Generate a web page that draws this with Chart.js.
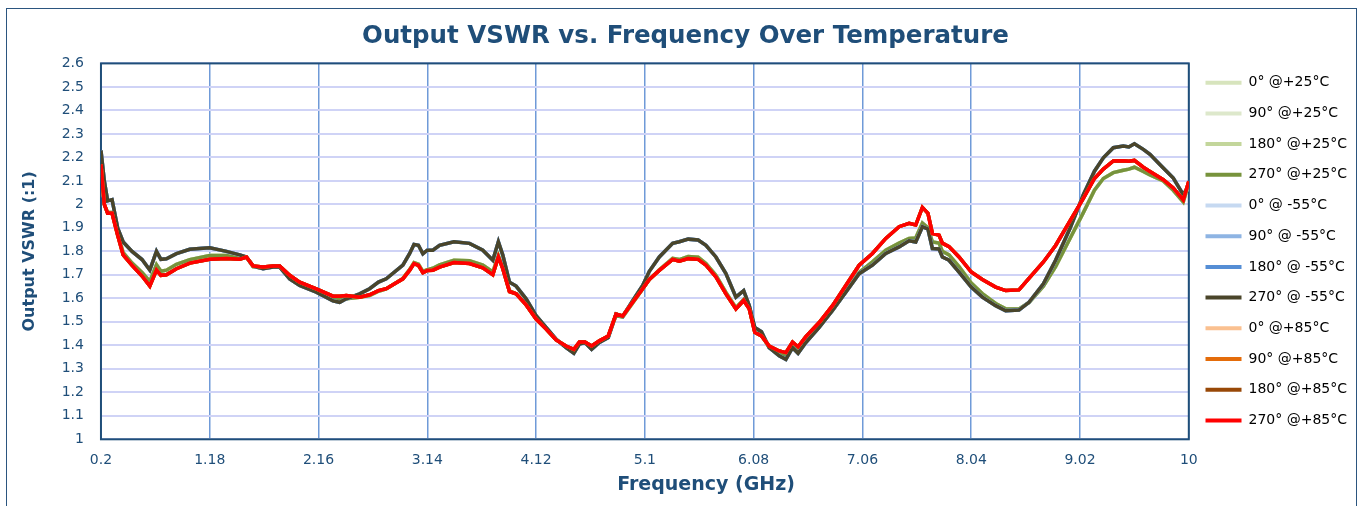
<!DOCTYPE html>
<html>
<head>
<meta charset="utf-8">
<title>Output VSWR vs. Frequency Over Temperature</title>
<script src="https://cdn.jsdelivr.net/npm/chart.js@4.4.1/dist/chart.umd.min.js"></script>
<style>
  html, body { margin: 0; padding: 0; background: #fff; }
  #wrap { width: 1364px; height: 506px; }
</style>
</head>
<body>
<div id="wrap"><canvas id="chart" width="1364" height="506"></canvas></div>
<script>
// frequency points (GHz) shared by all series
const freq = [
  0.2, 0.23, 0.26, 0.3, 0.35, 0.4, 0.48, 0.57, 0.64, 0.7,
  0.74, 0.79, 0.88, 1.0, 1.18, 1.33, 1.45, 1.51, 1.57, 1.66,
  1.75, 1.81, 1.9, 1.99, 2.14, 2.29, 2.35, 2.41, 2.53, 2.62,
  2.7, 2.77, 2.92, 2.98, 3.02, 3.06, 3.1, 3.14, 3.19, 3.25,
  3.38, 3.52, 3.64, 3.73, 3.78, 3.82, 3.88, 3.94, 4.03, 4.12,
  4.21, 4.3, 4.39, 4.46, 4.51, 4.56, 4.62, 4.69, 4.77, 4.84,
  4.9, 4.99, 5.08, 5.14, 5.23, 5.35, 5.41, 5.49, 5.58, 5.65,
  5.74, 5.83, 5.92, 5.99, 6.04, 6.09, 6.15, 6.22, 6.31, 6.37,
  6.43, 6.48, 6.55, 6.67, 6.79, 6.91, 7.03, 7.15, 7.27, 7.39,
  7.48, 7.54, 7.6, 7.65, 7.69, 7.75, 7.78, 7.84, 7.93, 8.04,
  8.14, 8.26, 8.35, 8.47, 8.56, 8.69, 8.8, 8.93, 9.05, 9.15,
  9.23, 9.32, 9.41, 9.46, 9.51, 9.59, 9.65, 9.77, 9.86, 9.95,
  10.0
];

// VSWR at +25°C (the four phase states lie on top of each other)
const vswr25 = [
  2.17, 2.00, 1.965, 1.965, 1.875, 1.795, 1.75, 1.71, 1.672, 1.743,
  1.715, 1.72, 1.745, 1.765, 1.782, 1.782, 1.77, 1.776, 1.735, 1.728,
  1.735, 1.733, 1.69, 1.662, 1.632, 1.598, 1.595, 1.598, 1.605, 1.612,
  1.63, 1.64, 1.685, 1.722, 1.752, 1.745, 1.715, 1.722, 1.728, 1.742,
  1.762, 1.76, 1.742, 1.712, 1.782, 1.73, 1.632, 1.62, 1.575, 1.515,
  1.47, 1.425, 1.395, 1.38, 1.41, 1.41, 1.392, 1.415, 1.437, 1.527,
  1.52, 1.58, 1.64, 1.68, 1.722, 1.77, 1.765, 1.778, 1.775, 1.748,
  1.698, 1.625, 1.56, 1.595, 1.56, 1.46, 1.445, 1.39, 1.366, 1.355,
  1.405, 1.385, 1.425, 1.48, 1.548, 1.628, 1.71, 1.755, 1.805, 1.835,
  1.855, 1.857, 1.92, 1.9, 1.84, 1.835, 1.8, 1.785, 1.735, 1.665,
  1.62, 1.578, 1.555, 1.555, 1.582, 1.652, 1.735, 1.855, 1.965, 2.06,
  2.11, 2.135, 2.145, 2.15, 2.158, 2.14, 2.125, 2.1, 2.06, 2.01,
  2.09
];

// VSWR at -55°C
const vswrM55 = [
  2.23, 2.10, 2.015, 2.02, 1.90, 1.84, 1.80, 1.765, 1.72, 1.80,
  1.766, 1.768, 1.79, 1.809, 1.815, 1.80, 1.785, 1.776, 1.738, 1.726,
  1.733, 1.733, 1.683, 1.655, 1.626, 1.589, 1.583, 1.598, 1.619, 1.641,
  1.669, 1.683, 1.741, 1.79, 1.829, 1.826, 1.79, 1.805, 1.805, 1.826,
  1.841, 1.834, 1.805, 1.762, 1.841, 1.784, 1.669, 1.652, 1.598, 1.526,
  1.476, 1.426, 1.39, 1.366, 1.405, 1.412, 1.383, 1.412, 1.433, 1.533,
  1.523, 1.59, 1.655, 1.715, 1.776, 1.834, 1.841, 1.852, 1.848, 1.826,
  1.776, 1.705, 1.605, 1.633, 1.569, 1.476, 1.458, 1.39, 1.355, 1.34,
  1.39, 1.366, 1.412, 1.476, 1.548, 1.626, 1.705, 1.741, 1.791, 1.819,
  1.845, 1.84, 1.905, 1.895, 1.812, 1.81, 1.776, 1.762, 1.712, 1.648,
  1.605, 1.569, 1.547, 1.55, 1.583, 1.662, 1.762, 1.898, 2.041, 2.141,
  2.198, 2.241, 2.248, 2.244, 2.258, 2.234, 2.213, 2.155, 2.112, 2.041,
  2.08
];

// VSWR at +85°C
const vswr85 = [
  2.17, 2.00, 1.962, 1.962, 1.869, 1.785, 1.74, 1.695, 1.652, 1.72,
  1.698, 1.70, 1.726, 1.75, 1.766, 1.77, 1.766, 1.776, 1.738, 1.733,
  1.738, 1.738, 1.698, 1.669, 1.64, 1.609, 1.609, 1.612, 1.605, 1.615,
  1.633, 1.641, 1.683, 1.719, 1.748, 1.74, 1.709, 1.719, 1.72, 1.733,
  1.752, 1.748, 1.73, 1.701, 1.776, 1.726, 1.629, 1.619, 1.572, 1.512,
  1.469, 1.423, 1.397, 1.383, 1.414, 1.414, 1.397, 1.419, 1.44, 1.533,
  1.525, 1.583, 1.641, 1.68, 1.719, 1.766, 1.758, 1.769, 1.766, 1.741,
  1.691, 1.619, 1.555, 1.591, 1.555, 1.455, 1.44, 1.397, 1.376, 1.369,
  1.414, 1.394, 1.437, 1.497, 1.569, 1.655, 1.741, 1.791, 1.855, 1.905,
  1.919, 1.912, 1.987, 1.962, 1.876, 1.869, 1.835, 1.82, 1.776, 1.712,
  1.68, 1.648, 1.633, 1.636, 1.685, 1.755, 1.825, 1.93, 2.025, 2.11,
  2.15, 2.185, 2.186, 2.184, 2.187, 2.158, 2.14, 2.105, 2.07, 2.019,
  2.098
];

const seriesNames = [
  '0° @+25°C', '90° @+25°C', '180° @+25°C', '270° @+25°C',
  '0° @ -55°C', '90° @ -55°C', '180° @ -55°C', '270° @ -55°C',
  '0° @+85°C', '90° @+85°C', '180° @+85°C', '270° @+85°C'
];
const seriesValues = [
  vswr25, vswr25, vswr25, vswr25,
  vswrM55, vswrM55, vswrM55, vswrM55,
  vswr85, vswr85, vswr85, vswr85
];
const seriesColors = [
  '#d7e4bd', '#dde8cb', '#c3d69b', '#77933c',
  '#c6d9f1', '#8eb4e3', '#558ed5', '#4a452a',
  '#fac090', '#e46c0a', '#984807', '#ff0000'
];

const xTickValues = [0.2, 1.18, 2.16, 3.14, 4.12, 5.1, 6.08, 7.06, 8.04, 9.02, 10];
const xTickLabels = ['0.2', '1.18', '2.16', '3.14', '4.12', '5.1', '6.08', '7.06', '8.04', '9.02', '10'];
const yTickValues = [1, 1.1, 1.2, 1.3, 1.4, 1.5, 1.6, 1.7, 1.8, 1.9, 2, 2.1, 2.2, 2.3, 2.4, 2.5, 2.6];
const yTickLabels = ['1', '1.1', '1.2', '1.3', '1.4', '1.5', '1.6', '1.7', '1.8', '1.9', '2', '2.1', '2.2', '2.3', '2.4', '2.5', '2.6'];

const navy = '#1f4e79';

Chart.defaults.font.family = '"DejaVu Sans", sans-serif';

// background, plot border, outer frame and x-axis title
const decor = {
  id: 'decor',
  beforeDraw(chart) {
    const ctx = chart.ctx;
    ctx.save();
    ctx.fillStyle = '#ffffff';
    ctx.fillRect(0, 0, chart.width, chart.height);
    ctx.restore();
  },
  beforeDatasetsDraw(chart) {
    const a = chart.chartArea;
    const ctx = chart.ctx;
    ctx.save();
    ctx.strokeStyle = navy;
    ctx.lineWidth = 2;
    ctx.strokeRect(a.left, a.top, a.right - a.left, a.bottom - a.top);
    ctx.restore();
  },
  afterDraw(chart) {
    const ctx = chart.ctx;
    ctx.save();
    ctx.strokeStyle = '#2b557f';
    ctx.lineWidth = 1;
    ctx.strokeRect(6.5, 8.5, 1350, 520);
    ctx.fillStyle = navy;
    ctx.font = 'bold 19px "DejaVu Sans", sans-serif';
    ctx.textAlign = 'center';
    ctx.textBaseline = 'middle';
    ctx.fillText('Frequency (GHz)', 706, 485);
    ctx.restore();
  }
};

new Chart(document.getElementById('chart'), {
  type: 'line',
  data: {
    datasets: seriesNames.map((name, i) => ({
      label: name,
      data: freq.map((f, k) => ({ x: f, y: seriesValues[i][k] })),
      borderColor: seriesColors[i],
      backgroundColor: seriesColors[i],
      borderWidth: 3.5,
      pointRadius: 0,
      tension: 0,
      order: seriesNames.length - i
    }))
  },
  options: {
    responsive: false,
    animation: false,
    layout: { padding: { left: 14, right: 7, top: 21.6, bottom: 24.5 } },
    plugins: {
      title: {
        display: true,
        text: 'Output VSWR vs. Frequency Over Temperature',
        color: navy,
        font: { size: 24.5, weight: 'bold' },
        padding: { top: 0.8, bottom: 11.6 }
      },
      legend: {
        position: 'right',
        labels: {
          usePointStyle: true,
          pointStyle: 'line',
          pointStyleWidth: 36,
          padding: 16.7,
          color: '#262626',
          font: { size: 14 },
          generateLabels(chart) {
            return chart.data.datasets.map((ds, i) => ({
              text: ds.label,
              fillStyle: ds.borderColor,
              strokeStyle: ds.borderColor,
              lineWidth: 4,
              pointStyle: 'line',
              hidden: false,
              datasetIndex: i
            }));
          }
        }
      },
      tooltip: { enabled: false }
    },
    scales: {
      x: {
        type: 'linear',
        min: 0.2,
        max: 10,
        afterBuildTicks(scale) { scale.ticks = xTickValues.map(v => ({ value: v })); },
        ticks: {
          color: navy,
          font: { size: 14 },
          padding: 12.7,
          maxRotation: 0,
          autoSkip: false,
          callback: (v, i) => xTickLabels[i]
        },
        grid: { color: '#6f9ad8', lineWidth: 1.5, drawTicks: false },
        border: { display: false }
      },
      y: {
        min: 1,
        max: 2.6,
        afterBuildTicks(scale) { scale.ticks = yTickValues.map(v => ({ value: v })); },
        ticks: {
          color: navy,
          font: { size: 14 },
          padding: 17,
          autoSkip: false,
          callback: (v, i) => yTickLabels[i]
        },
        grid: { color: '#cfd3f6', lineWidth: 2, drawTicks: false },
        border: { display: false },
        title: {
          display: true,
          text: 'Output VSWR (:1)',
          color: navy,
          font: { size: 16, weight: 'bold' },
          padding: { top: 6.4, bottom: 5.1 }
        }
      }
    }
  },
  plugins: [decor]
});
</script>
</body>
</html>
